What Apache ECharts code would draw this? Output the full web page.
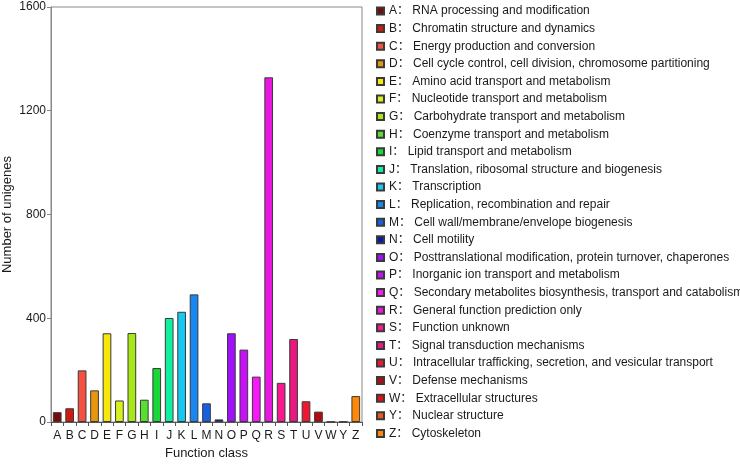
<!DOCTYPE html>
<html>
<head>
<meta charset="utf-8">
<script src="https://cdn.jsdelivr.net/npm/echarts@6/dist/echarts.min.js"></script>
<style>html,body{margin:0;padding:0;background:#fff}#c{width:740px;height:465px}</style>
</head>
<body>
<div id="c"></div>
<script>
const categories = ['A','B','C','D','E','F','G','H','I','J','K','L','M','N','O','P','Q','R','S','T','U','V','W','Y','Z'];
const descriptions = [
  'RNA processing and modification',
  'Chromatin structure and dynamics',
  'Energy production and conversion',
  'Cell cycle control, cell division, chromosome partitioning',
  'Amino acid transport and metabolism',
  'Nucleotide transport and metabolism',
  'Carbohydrate transport and metabolism',
  'Coenzyme transport and metabolism',
  'Lipid transport and metabolism',
  'Translation, ribosomal structure and biogenesis',
  'Transcription',
  'Replication, recombination and repair',
  'Cell wall/membrane/envelope biogenesis',
  'Cell motility',
  'Posttranslational modification, protein turnover, chaperones',
  'Inorganic ion transport and metabolism',
  'Secondary metabolites biosynthesis, transport and catabolism',
  'General function prediction only',
  'Function unknown',
  'Signal transduction mechanisms',
  'Intracellular trafficking, secretion, and vesicular transport',
  'Defense mechanisms',
  'Extracellular structures',
  'Nuclear structure',
  'Cytoskeleton'
];
const values = [38, 53, 199, 122, 342, 83, 343, 86, 208, 401, 425, 492, 72, 10, 342, 279, 175, 1329, 151, 320, 80, 40, 1, 2, 100];
const colors = ['#7a0a0a','#d01a10','#f55040','#e8960c','#f8e80a','#d8f020','#a8e818','#58e030','#18d838','#10f0a0','#18c8f0','#1888f0','#1860e0','#0818a8','#a010f8','#c810f8','#f818f8','#e818e0','#f81890','#e81880','#f01830','#b80810','#e81010','#e85820','#ff8808'];
const yTicks = [0, 400, 800, 1200, 1600];

const FONT = '"Liberation Sans", Arial, "Noto Sans CJK SC", sans-serif';
const names = categories.map((c, i) => c + '： ' + descriptions[i]);

const series = categories.map((c, i) => ({
  name: names[i],
  type: 'bar',
  stack: 'all',
  barWidth: '70%',
  itemStyle: { color: colors[i], borderColor: '#3a3a3a', borderWidth: 1 },
  data: categories.map((_, j) => j === i ? values[i] : '-')
}));

const chart = echarts.init(document.getElementById('c'), null, { renderer: 'canvas' });
chart.setOption({
  animation: false,
  backgroundColor: '#fff',
  textStyle: { fontFamily: FONT },
  grid: { left: 51, right: 378, top: 7, bottom: 37, show: true, borderColor: '#888', borderWidth: 1, backgroundColor: 'transparent' },
  legend: {
    orient: 'vertical',
    left: 376,
    top: 4,
    padding: 0,
    itemWidth: 7,
    itemHeight: 7,
    itemGap: 3.6,
    icon: 'rect',
    selectedMode: false,
    textStyle: { fontFamily: FONT, fontSize: 12, color: '#1a1a1a', lineHeight: 14, padding: [0, 0, 0, 0] },
    data: names
  },
  xAxis: {
    type: 'category',
    data: categories,
    name: 'Function class',
    nameLocation: 'middle',
    nameGap: 25,
    nameTextStyle: { fontFamily: FONT, fontSize: 13, color: '#1a1a1a' },
    axisLine: { lineStyle: { color: '#555', width: 1 } },
    axisTick: { show: true, length: 4, lineStyle: { color: '#555' } },
    axisLabel: { fontFamily: FONT, fontSize: 12, color: '#1a1a1a', margin: 8, interval: 0 }
  },
  yAxis: {
    type: 'value',
    min: yTicks[0],
    max: yTicks[yTicks.length - 1],
    interval: yTicks[1] - yTicks[0],
    name: 'Number of unigenes',
    nameLocation: 'middle',
    nameGap: 37,
    nameTextStyle: { fontFamily: FONT, fontSize: 13, color: '#1a1a1a' },
    axisLine: { show: true, lineStyle: { color: '#888', width: 1 } },
    axisTick: { show: true, length: 4, lineStyle: { color: '#888' } },
    axisLabel: { fontFamily: FONT, fontSize: 12, color: '#1a1a1a', margin: 5, formatter: v => String(v) },
    splitLine: { show: false }
  },
  series: series
});
</script>
</body>
</html>
